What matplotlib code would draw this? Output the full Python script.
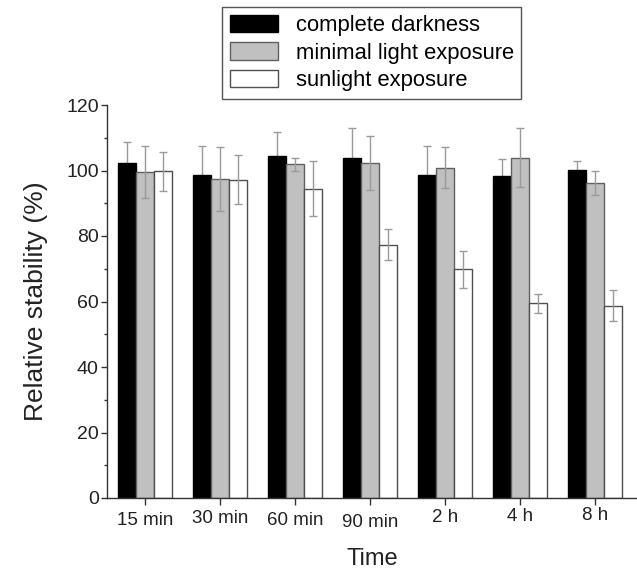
import matplotlib
matplotlib.use("Agg")
import matplotlib.pyplot as plt
import matplotlib.transforms as mtransforms
import numpy as np

plt.rcParams['font.family'] = ['Liberation Sans', 'DejaVu Sans']

categories = ["15 min", "30 min", "60 min", "90 min", "2 h", "4 h", "8 h"]
series_names = ["complete darkness", "minimal light exposure", "sunlight exposure"]
dark = [102.2, 98.6, 104.5, 103.8, 98.6, 98.3, 100.1]
dark_err = [6.6, 9.0, 7.2, 9.1, 9.0, 5.1, 2.8]
minimal = [99.6, 97.4, 101.9, 102.3, 100.9, 103.9, 96.2]
minimal_err = [8.0, 9.8, 2.0, 8.2, 6.2, 9.0, 3.6]
sun = [99.8, 97.2, 94.4, 77.3, 69.8, 59.4, 58.7]
sun_err = [6.0, 7.5, 8.4, 4.7, 5.6, 2.9, 4.8]

W, H = 637, 573
fig = plt.figure(figsize=(W/100, H/100), dpi=100)
left_px, right_px, bottom_px, top_px = 107, 637, 498, 105
ax = fig.add_axes([left_px/W, 1-bottom_px/H, (right_px-left_px)/W, (bottom_px-top_px)/H])

x = np.arange(len(categories))
bw = 0.236
err_kw = dict(ecolor='#9a9a9a', elinewidth=1.0, capsize=3, capthick=1.0)
b1 = ax.bar(x - bw, dark, bw, color='black', edgecolor='black', linewidth=1.0,
            label=series_names[0], zorder=2)
ax.errorbar(x - bw, dark, yerr=dark_err, fmt='none', zorder=1, **err_kw)
b2 = ax.bar(x, minimal, bw, color='#c0c0c0', edgecolor='#606060', linewidth=1.0,
            label=series_names[1], zorder=2)
ax.errorbar(x, minimal, yerr=minimal_err, fmt='none', zorder=3, **err_kw)
b3 = ax.bar(x + bw, sun, bw, color='white', edgecolor='#505050', linewidth=1.0,
            label=series_names[2], zorder=2)
ax.errorbar(x + bw, sun, yerr=sun_err, fmt='none', zorder=3, **err_kw)

# x range in data units so that group centres fall at 145 + 75*i px
xl = (left_px - 145) / 75
xr = (right_px - 145) / 75
ax.set_xlim(xl, xr)
ax.set_ylim(0, 120)
ax.set_yticks(np.arange(0, 121, 20))
ax.set_yticks(np.arange(10, 120, 20), minor=True)
ax.set_xticks(x)
ax.set_xticklabels(categories)

for s in ['top', 'right']:
    ax.spines[s].set_visible(False)
for s in ['left', 'bottom']:
    ax.spines[s].set_color('#333333')
    ax.spines[s].set_linewidth(1.0)
    ax.spines[s].set_zorder(4)

ax.tick_params(axis='y', which='major', direction='out', length=4, width=1, color='#333333',
               labelsize=14, pad=2, labelcolor='#222222')
ax.tick_params(axis='y', which='minor', direction='out', length=2.5, width=1, color='#333333')
ax.tick_params(axis='x', which='major', direction='out', length=5, width=1, color='#333333',
               labelsize=13.5, pad=5, labelcolor='#222222')

# slight vertical stagger of the x tick labels, as in the original
offsets_px = [0, -2, 0, 2, -3, -4, -5]
for lab, dy in zip(ax.get_xticklabels(), offsets_px):
    off = mtransforms.ScaledTranslation(0, -dy/100, fig.dpi_scale_trans)
    lab.set_transform(lab.get_transform() + off)

ax.set_ylabel("Relative stability (%)", fontsize=19, color='#222222', labelpad=13)
ax.set_xlabel("Time", fontsize=17, color='#222222', labelpad=12)

leg = fig.legend(handles=[b1, b2, b3], labels=series_names,
                 loc='upper left', bbox_to_anchor=(222/W, 1-7/H),
                 fontsize=15.8, frameon=True, fancybox=False, framealpha=1,
                 edgecolor='#555555', handlelength=2.2, handleheight=0.85,
                 labelspacing=0.28, handletextpad=0.8, borderpad=0.35, borderaxespad=0)
leg.get_frame().set_linewidth(1.0)

fig.savefig("out.png", dpi=100)
